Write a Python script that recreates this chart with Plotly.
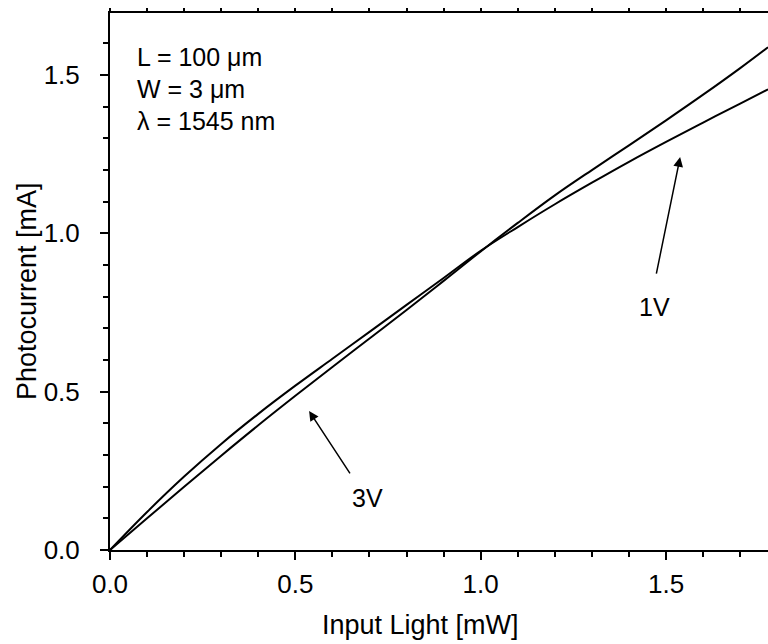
import plotly.graph_objects as go

x_vals = [0, 0.1, 0.2, 0.3, 0.4, 0.5, 0.6, 0.7, 0.8, 0.9, 1.0, 1.1, 1.2, 1.3, 1.4, 1.5, 1.6, 1.7, 1.775]
i_1v = [0, 0.12, 0.232, 0.335, 0.43, 0.519, 0.604, 0.689, 0.774, 0.859, 0.945, 1.02, 1.092, 1.16, 1.226, 1.289, 1.35, 1.41, 1.455]
i_3v = [0, 0.1, 0.2, 0.298, 0.394, 0.487, 0.578, 0.668, 0.758, 0.85, 0.943, 1.033, 1.12, 1.2, 1.278, 1.357, 1.438, 1.522, 1.588]

info_lines = ["L = 100 μm", "W = 3 μm", "λ = 1545 nm"]
x_title = "Input Light [mW]"
y_title = "Photocurrent [mA]"

FONT = "Liberation Sans, Arial, sans-serif"

fig = go.Figure()
fig.add_trace(go.Scatter(x=x_vals, y=i_1v, mode="lines", line=dict(color="black", width=2, shape="spline", smoothing=1), name="1V"))
fig.add_trace(go.Scatter(x=x_vals, y=i_3v, mode="lines", line=dict(color="black", width=2, shape="spline", smoothing=1), name="3V"))
# invisible trace for top axis
fig.add_trace(go.Scatter(x=[0, 1.775], y=[None, None], xaxis="x2", showlegend=False, hoverinfo="skip"))

fig.update_layout(
    width=768, height=644,
    margin=dict(l=110, r=0, t=13, b=94),
    plot_bgcolor="white", paper_bgcolor="white",
    showlegend=False,
    font=dict(family=FONT, size=26, color="black"),
    xaxis=dict(range=[0, 1.775], showline=True, linecolor="black", linewidth=2,
               ticks="outside", ticklen=8, tickwidth=2, tickcolor="black",
               dtick=0.5, tick0=0, tickformat=".1f", showgrid=False, zeroline=False,
               ticklabelstandoff=2,
               minor=dict(dtick=0.1, ticks="outside", ticklen=5, tickwidth=1.5, tickcolor="black"),
               tickfont=dict(size=26)),
    xaxis2=dict(range=[0, 1.775], overlaying="x", side="top", showline=True, linecolor="black", linewidth=1.5,
                ticks="outside", ticklen=3, tickwidth=1.5, tickcolor="black", dtick=0.1, tick0=0,
                showticklabels=False, showgrid=False, zeroline=False),
    yaxis=dict(range=[0, 1.696], showline=True, linecolor="black", linewidth=2,
               ticks="outside", ticklen=8, tickwidth=2, tickcolor="black",
               dtick=0.5, tick0=0, tickformat=".1f", showgrid=False, zeroline=False,
               ticklabelstandoff=15,
               minor=dict(dtick=0.1, ticks="outside", ticklen=5, tickwidth=1.5, tickcolor="black"),
               tickfont=dict(size=26)),
)

# axis titles
fig.add_annotation(text=x_title, xref="paper", yref="paper", x=(420 - 110) / 658, y=(550 - 625) / 537,
                   showarrow=False, font=dict(size=27), xanchor="center", yanchor="middle")
fig.add_annotation(text=y_title, xref="paper", yref="paper", x=(27 - 110) / 658, y=(550 - 291) / 537,
                   showarrow=False, font=dict(size=27), textangle=-90, xanchor="center", yanchor="middle")

# info text
for k, line in enumerate(info_lines):
    fig.add_annotation(text=line, xref="paper", yref="paper", x=(135 - 110) / 658, y=(550 - (57 + 32 * k)) / 537,
                       showarrow=False, font=dict(size=25), xanchor="left", yanchor="middle")

# arrows with labels
fig.add_annotation(x=0.537, y=0.439, ax=0.650, ay=0.237, xref="x", yref="y", axref="x", ayref="y",
                   showarrow=True, arrowhead=2, arrowsize=1.3, arrowwidth=1.5, arrowcolor="black", text="")
fig.add_annotation(x=0.695, y=0.165, text="3V", xref="x", yref="y", showarrow=False, font=dict(size=25))
fig.add_annotation(x=1.538, y=1.241, ax=1.473, ay=0.868, xref="x", yref="y", axref="x", ayref="y",
                   showarrow=True, arrowhead=2, arrowsize=1.3, arrowwidth=1.5, arrowcolor="black", text="")
fig.add_annotation(x=1.470, y=0.767, text="1V", xref="x", yref="y", showarrow=False, font=dict(size=25))

fig.write_html("out.html", config={"displayModeBar": False},
               post_script="document.body.style.margin='0';document.body.style.overflow='hidden';")
